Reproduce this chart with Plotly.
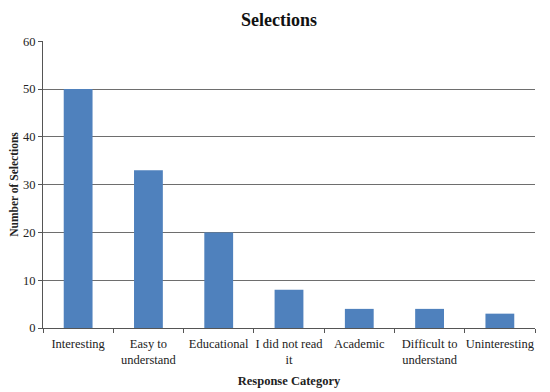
import plotly.graph_objects as go

categories = ["Interesting", "Easy to<br>understand", "Educational", "I did not read<br>it",
              "Academic", "Difficult to<br>understand", "Uninteresting"]
selections = [50, 33, 20, 8, 4, 4, 3]
y_ticks = [0, 10, 20, 30, 40, 50, 60]

font_family = "Liberation Serif, Times New Roman, serif"

fig = go.Figure(go.Bar(x=categories, y=selections, marker_color="#4F81BD",
                       marker_line_width=0, width=0.41))

fig.update_layout(
    width=542, height=384,
    margin=dict(l=35, r=15, t=33, b=64, autoexpand=False),
    paper_bgcolor="white", plot_bgcolor="white",
    font=dict(family=font_family, size=12, color="#222"),
    title=dict(text="<b>Selections</b>", x=0.5, xanchor="center", y=0.987, yanchor="top",
               font=dict(size=18, family=font_family, color="#111")),
    showlegend=False,
)
fig.update_xaxes(
    type="category", tickson="boundaries", ticks="outside", ticklen=4, tickcolor="#555",
    showline=True, linecolor="#555", linewidth=1, tickangle=0, automargin=False,
    tickfont=dict(size=12.5), ticklabelstandoff=4,
    title=dict(text="<b>Response Category</b>", font=dict(size=12.5), standoff=9),
)
fig.update_yaxes(
    range=[0, 60.05], tickvals=y_ticks, ticks="outside", ticklen=4, tickcolor="#555",
    showline=True, linecolor="#555", linewidth=1, automargin=False,
    showgrid=True, gridcolor="#6e6e6e", gridwidth=1,
    tickfont=dict(size=12.5),
    title=dict(text="<b>Number of Selections</b>", font=dict(size=11.5), standoff=11),
)

fig.write_html("out.html")
